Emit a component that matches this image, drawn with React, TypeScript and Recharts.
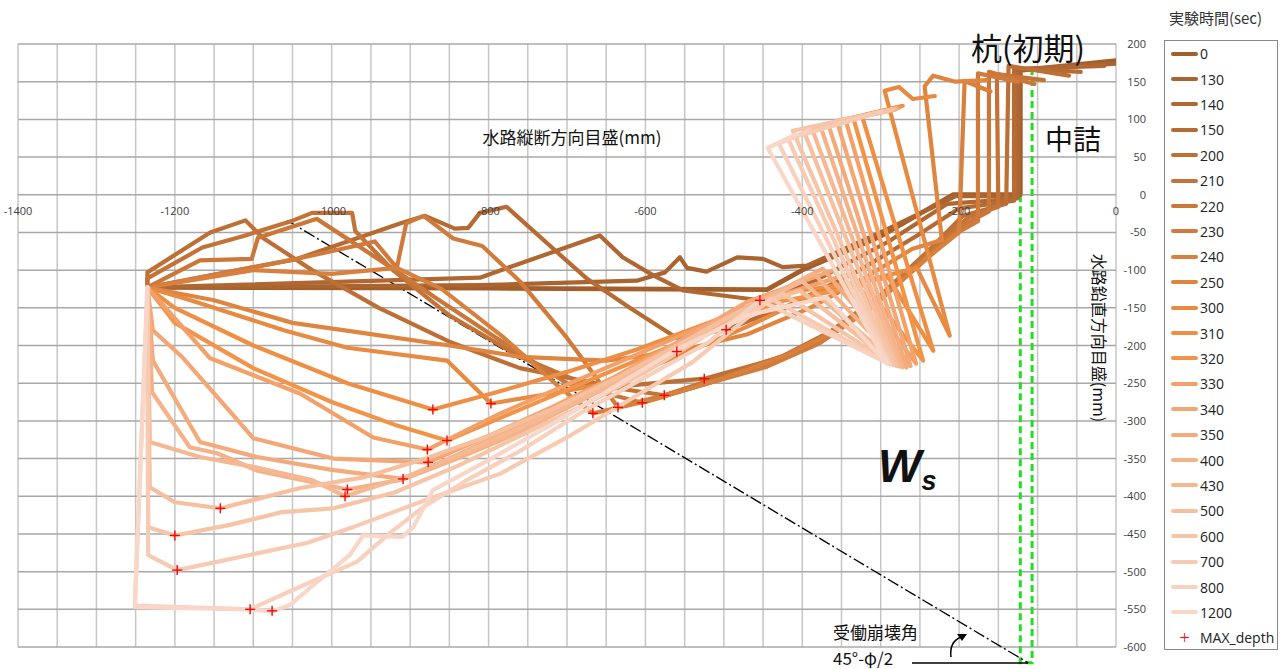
import React from 'react';
import { ScatterChart, Scatter, XAxis, YAxis, CartesianGrid, ReferenceLine, ReferenceArea } from 'recharts';

// 実験時間(sec) と各時刻の形状 [x(mm), y(mm)]
const times = ['0', '130', '140', '150', '200', '210', '220', '230', '240', '250', '300', '310', '320', '330', '340', '350', '400', '430', '500', '600', '700', '800', '1200'];

const s0 = [[-1235, -123], [-800, -124], [-445, -126], [-400, -100], [-300, -55], [-208, 0], [-122, 0], [-122, 165], [0, 178]];
const s130 = [[-1235, -123], [-811, -120], [-611, -114], [-575, -103], [-556, -83], [-547, -97], [-522, -102], [-483, -83], [-450, -85], [-425, -96], [-394, -94], [-300, -50], [-205, -2], [-124, -2], [-124, 166], [0, 174]];
const s140 = [[-1235, -123], [-811, -110], [-658, -54], [-629, -83], [-590, -107], [-552, -127], [-454, -140], [-380, -112], [-290, -62], [-215, -12], [-126, -5], [-126, 167], [-15, 171]];
const s150 = [[-1235, -123], [-1044, -85], [-913, -38], [-881, -28], [-843, -45], [-826, -44], [-811, -24], [-777, -16], [-715, -74], [-675, -111], [-620, -150], [-560, -190], [-497, -179], [-420, -148], [-330, -102], [-255, -55], [-200, -18], [-130, -8], [-130, 168], [-45, 163]];
const s200 = [[-1235, -123], [-1235, -103], [-1155, -50], [-1110, -34], [-1088, -57], [-1025, -100], [-940, -150], [-850, -195], [-760, -230], [-640, -255], [-525, -244], [-428, -216], [-365, -182], [-300, -133], [-240, -75], [-195, -28], [-140, -12], [-137, 171], [-60, 158]];
const s210 = [[-1235, -123], [-1235, -111], [-1165, -70], [-1110, -54], [-1049, -34], [-1025, -24], [-974, -24], [-970, -48], [-922, -100], [-850, -160], [-760, -215], [-680, -250], [-576, -266], [-500, -240], [-425, -214], [-360, -180], [-295, -130], [-235, -72], [-188, -30], [-150, -16], [-152, 160], [-92, 152]];
const s220 = [[-1235, -123], [-1168, -87], [-1102, -85], [-1094, -57], [-1019, -32], [-922, -98], [-870, -135], [-790, -190], [-700, -250], [-604, -276], [-520, -250], [-435, -222], [-370, -190], [-305, -142], [-245, -85], [-198, -42], [-162, -22], [-162, 163], [-104, 147]];
const s230 = [[-1235, -123], [-1044, -85], [-945, -62], [-917, -97], [-905, -38], [-883, -28], [-845, -58], [-808, -68], [-760, -115], [-700, -190], [-635, -282], [-540, -256], [-445, -228], [-378, -197], [-312, -150], [-252, -94], [-205, -52], [-176, -35], [-176, 161], [-125, 150]];
const s240 = [[-1235, -123], [-1100, -100], [-1000, -105], [-917, -97], [-860, -125], [-780, -190], [-710, -255], [-667, -290], [-590, -272], [-500, -243], [-420, -213], [-355, -179], [-290, -129], [-235, -79], [-200, -50], [-193, 151], [-160, 137]];
const s250 = [[-1235, -123], [-1150, -140], [-1050, -170], [-950, -185], [-850, -200], [-760, -215], [-650, -220], [-560, -208], [-470, -185], [-390, -150], [-320, -110], [-260, -72], [-222, -60], [-244, 144], [-233, 158], [-205, 150], [-165, 152]];
const s300 = [[-1235, -123], [-1180, -140], [-1060, -180], [-980, -203], [-853, -220], [-797, -277], [-710, -262], [-649, -250], [-560, -215], [-470, -175], [-380, -130], [-254, -97], [-212, -187], [-295, 138], [-277, 143], [-259, 127], [-231, 131]];
const s310 = [[-1235, -123], [-1200, -150], [-1100, -200], [-980, -250], [-871, -285], [-790, -262], [-700, -235], [-610, -205], [-520, -170], [-420, -130], [-290, -110], [-233, -207], [-324, 105], [-272, 118]];
const s320 = [[-1235, -123], [-1200, -170], [-1100, -230], [-1000, -275], [-920, -305], [-853, -326], [-760, -285], [-680, -250], [-600, -215], [-520, -180], [-430, -142], [-320, -120], [-246, -220], [-335, 102], [-276, 116]];
const s330 = [[-1235, -123], [-1228, -131], [-1155, -217], [-1040, -264], [-947, -322], [-878, -338], [-785, -290], [-700, -252], [-620, -216], [-540, -180], [-450, -140], [-340, -105], [-255, -224], [-345, 100], [-278, 115]];
const s340 = [[-1235, -123], [-1228, -180], [-1190, -216], [-1100, -323], [-998, -350], [-877, -355], [-800, -320], [-720, -282], [-640, -242], [-560, -196], [-470, -142], [-360, -100], [-262, -227], [-356, 98], [-280, 114]];
const s350 = [[-1235, -123], [-1228, -220], [-1168, -328], [-1095, -348], [-1000, -365], [-909, -377], [-840, -345], [-760, -306], [-680, -266], [-600, -226], [-510, -172], [-374, -98], [-267, -229], [-367, 94], [-282, 113]];
const s400 = [[-1235, -123], [-1229, -262], [-1181, -335], [-1146, -343], [-1095, -366], [-980, -391], [-910, -378], [-840, -350], [-760, -315], [-680, -272], [-600, -228], [-510, -170], [-385, -105], [-272, -229], [-377, 91], [-280, 114]];
const s430 = [[-1235, -123], [-1232, -328], [-1168, -348], [-1100, -361], [-1024, -379], [-983, -400], [-900, -372], [-820, -337], [-740, -300], [-660, -260], [-580, -215], [-490, -160], [-400, -115], [-276, -228], [-388, 89], [-282, 114]];
const s500 = [[-1235, -123], [-1232, -388], [-1200, -408], [-1142, -416], [-1040, -389], [-960, -375], [-880, -350], [-800, -320], [-720, -285], [-640, -245], [-560, -200], [-480, -155], [-403, -127], [-280, -227], [-399, 87], [-285, 113]];
const s600 = [[-1235, -123], [-1234, -441], [-1200, -452], [-1130, -438], [-1063, -421], [-998, -416], [-920, -395], [-840, -360], [-760, -320], [-680, -280], [-600, -235], [-520, -185], [-425, -131], [-284, -226], [-412, 85], [-290, 112]];
const s700 = [[-1235, -123], [-1234, -478], [-1197, -498], [-1032, -462], [-973, -441], [-880, -405], [-785, -370], [-700, -322], [-620, -272], [-540, -222], [-440, -138], [-288, -225], [-418, 74], [-300, 110]];
const s800 = [[-1235, -123], [-1251, -545], [-1104, -550], [-1049, -524], [-968, -487], [-926, -449], [-884, -415], [-830, -380], [-760, -340], [-680, -288], [-600, -242], [-520, -196], [-454, -140], [-290, -224], [-430, 68], [-390, 86]];
const s1200 = [[-1235, -123], [-1251, -547], [-1104, -550], [-1076, -553], [-1053, -544], [-1019, -514], [-977, -478], [-960, -452], [-910, -454], [-896, -441], [-871, -392], [-800, -352], [-720, -305], [-640, -255], [-560, -205], [-470, -160], [-369, -136], [-292, -224], [-444, 62], [-408, 80]];

const profiles = [s0, s130, s140, s150, s200, s210, s220, s230, s240, s250, s300, s310, s320, s330, s340, s350, s400, s430, s500, s600, s700, s800, s1200];

const maxDepthX = [-454, -497, -560, -525, -576, -604, -635, -667, -797, -871, -853, -878, -877, -909, -980, -983, -1142, -1200, -1197, -1104, -1076];
const maxDepthY = [-140, -179, -208, -244, -266, -276, -282, -290, -277, -285, -326, -338, -355, -377, -391, -400, -416, -452, -498, -550, -552];

const xTicks = [-1400, -1350, -1300, -1250, -1200, -1150, -1100, -1050, -1000, -950, -900, -850, -800, -750, -700, -650, -600, -550, -500, -450, -400, -350, -300, -250, -200, -150, -100, -50, 0];
const yTicks = [-600, -550, -500, -450, -400, -350, -300, -250, -200, -150, -100, -50, 0, 50, 100, 150, 200];

const colors = ['#A35F2B', '#AA6430', '#B06731', '#B66B33', '#BD6F35', '#C37337', '#CA7739', '#D07B3B', '#D8803D', '#DF8540', '#E78A42', '#EE8F45', '#F29448', '#F3A069', '#F4A674', '#F4AB7C', '#F5B289', '#F5B893', '#F6BF9E', '#F6C5A8', '#F7CBB3', '#F7D1BD', '#F8D7C8'];

const FONT = '"Open Sans", "Noto Sans", sans-serif';
const JP = '"Noto Sans CJK JP", "Noto Sans", sans-serif';

const NoDot = () => <g />;

const Plus = (props: any) => {
  const { cx, cy } = props;
  return (
    <g stroke="#FF0000" strokeWidth={1.4}>
      <line x1={cx - 5} y1={cy} x2={cx + 5} y2={cy} />
      <line x1={cx} y1={cy - 5} x2={cx} y2={cy + 5} />
    </g>
  );
};

// x 軸目盛は y=0 の線の下に描く
const XTick = (props: any) => {
  const { x, payload } = props;
  if (payload.value % 200 !== 0) return <g />;
  return (
    <text x={x} y={215} textAnchor="middle" fontSize={11} fill="#404040" fontFamily={FONT}>
      {payload.value}
    </text>
  );
};

const YTick = (props: any) => {
  const { x, y, payload } = props;
  return (
    <text x={x} y={y + 4} textAnchor="end" fontSize={11} fill="#404040" fontFamily={FONT}>
      {payload.value}
    </text>
  );
};

export default function App() {
  return (
    <div style={{ position: 'fixed', left: 0, top: 0, width: 1281, height: 669, background: '#fff' }}>
      <ScatterChart width={1281} height={669} margin={{ top: 44, right: 125, left: 18, bottom: 2 }}>
        <CartesianGrid stroke="#c6c6c6" strokeWidth={1.5} horizontal={false} />
        <CartesianGrid stroke="#a8a8a8" strokeWidth={1.5} vertical={false} />
        <XAxis type="number" dataKey="x" domain={[-1400, 0]} ticks={xTicks} interval={0} allowDataOverflow
          axisLine={false} tickLine={false} height={20} tick={<XTick />} />
        <YAxis type="number" dataKey="y" domain={[-600, 200]} ticks={yTicks} interval={0} allowDataOverflow
          orientation="right" width={40} axisLine={false} tickLine={false} tickSize={6} tickMargin={24} tick={<YTick />} />
        {profiles.map((p, i) => (
          <Scatter key={times[i]} name={times[i]} data={p.map(([x, y]) => ({ x, y }))} fill={colors[i]}
            line={{ stroke: colors[i], strokeWidth: i === 0 ? 4.8 : 4.2, strokeLinejoin: 'round', strokeLinecap: 'round' }}
            lineType="joint" shape={NoDot} isAnimationActive={false} />
        ))}
        <Scatter name="MAX_depth" data={maxDepthX.map((x, i) => ({ x, y: maxDepthY[i] }))} fill="#FF0000"
          shape={Plus} isAnimationActive={false} />
        <ReferenceLine segment={[{ x: -1057, y: -34 }, { x: -112, y: -621 }]} stroke="#000" strokeWidth={1.3}
          strokeDasharray="12 3 2 3" ifOverflow="visible" />
        <ReferenceArea x1={-122} x2={-107} y1={-621} y2={167} fill="none" fillOpacity={0} stroke="#22DD22"
          strokeWidth={3} strokeDasharray="7 4" ifOverflow="visible" />
      </ScatterChart>

      <svg width={1281} height={669} style={{ position: 'absolute', left: 0, top: 0, pointerEvents: 'none' }}>
        <text x={572} y={144} textAnchor="middle" fontSize={17} fill="#111" fontFamily={JP}>水路縦断方向目盛(mm)</text>
        <text transform="translate(1093,338) rotate(90)" textAnchor="middle" fontSize={16} fill="#111" fontFamily={JP}>水路鉛直方向目盛(mm)</text>
        <text x={1028} y={60} textAnchor="middle" fontSize={31} fill="#111" fontFamily={JP}>杭(初期)</text>
        <text x={1073} y={150} textAnchor="middle" fontSize={28} fill="#111" fontFamily={JP}>中詰</text>
        <text x={878} y={482} fontSize={46} fontWeight="bold" fontStyle="italic" fill="#111" fontFamily='"Liberation Sans", sans-serif'>
          W<tspan fontSize={27} dy={8}>s</tspan>
        </text>
        <text x={833} y={639} fontSize={17} fill="#111" fontFamily={JP}>受働崩壊角</text>
        <text x={833} y={665} fontSize={17} fill="#111" fontFamily={JP}>45°-φ/2</text>
        <line x1={912} y1={663} x2={1028} y2={663} stroke="#000" strokeWidth={1.5} />
        <path d="M951 657 Q949 642 961 637" fill="none" stroke="#000" strokeWidth={1.5} />
        <path d="M967 634 L957 634 L962 641 Z" fill="#000" />
      </svg>

      <div style={{ position: 'absolute', left: 1150, top: 7, width: 131, textAlign: 'center', fontSize: 15, color: '#333', fontFamily: JP }}>
        実験時間(sec)
      </div>
      <div style={{ position: 'absolute', left: 1164, top: 40, width: 112, height: 608, border: '1px solid #888', boxSizing: 'content-box' }}>
        {times.map((t, i) => (
          <div key={t} style={{ position: 'absolute', left: 0, top: i * 25.4, height: 25.4, display: 'flex', alignItems: 'center' }}>
            <div style={{ marginLeft: 6, width: 27, height: 4, borderRadius: 2, background: colors[i] }} />
            <span style={{ marginLeft: 2, fontSize: 14, color: '#222', fontFamily: FONT }}>{t}</span>
          </div>
        ))}
        <div style={{ position: 'absolute', left: 0, top: 23 * 25.4, height: 25.4, display: 'flex', alignItems: 'center' }}>
          <div style={{ marginLeft: 6, width: 27, textAlign: 'center', color: '#FF0000', fontSize: 18, lineHeight: '18px' }}>+</div>
          <span style={{ marginLeft: 2, fontSize: 14, color: '#222', fontFamily: FONT }}>MAX_depth</span>
        </div>
      </div>
    </div>
  );
}
